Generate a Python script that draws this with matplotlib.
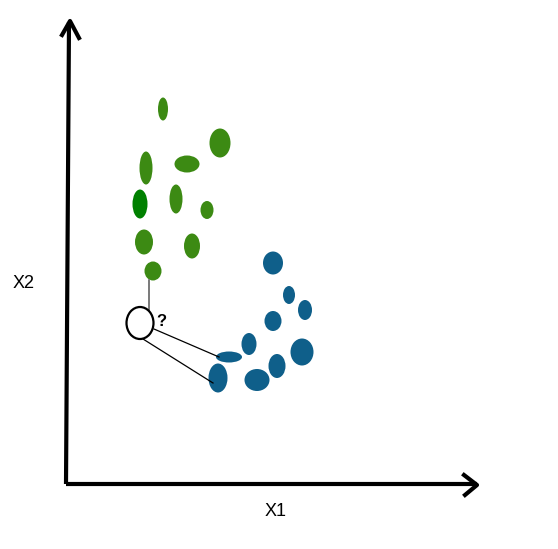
import matplotlib
matplotlib.use("Agg")
import matplotlib.pyplot as plt
from matplotlib.patches import Ellipse

# drawing is laid out in pixel units of the picture (y grows downward)
green_x = [163, 220, 146, 187, 140, 176, 207, 144, 192, 153]
green_y = [109, 143, 168, 164, 204, 199, 210, 242, 246, 271]
green_w = [10, 21, 13, 25, 15, 13, 13, 18, 16, 17]
green_h = [23, 29, 33, 17, 29, 29, 18, 25, 25, 19]

blue_x = [273, 289, 305, 273, 249, 302, 229, 277, 218, 257]
blue_y = [263, 295, 310, 321, 344, 352, 357, 366, 378, 380]
blue_w = [20, 12, 14, 17, 15, 23, 26, 17, 19, 25]
blue_h = [23, 18, 20, 20, 22, 27, 11, 24, 29, 22]

query = (140, 323)
# neighbours joined to the query point: one green, two blue
links = [((149, 310), (149, 280)),
         ((154, 329), (219, 357)),
         ((143, 339), (213, 383))]

fig = plt.figure(figsize=(5.58, 5.49), dpi=100)
ax = fig.add_axes([0, 0, 1, 1])
ax.set_xlim(0, 558)
ax.set_ylim(549, 0)
ax.axis("off")

# axes with chevron arrow heads
ax.plot([66, 69], [484, 22], color="black", lw=3, solid_capstyle="butt")
ax.plot([66, 477], [484, 484], color="black", lw=3, solid_capstyle="butt")
ax.plot([62, 70, 79], [35, 21, 38], color="black", lw=3)
ax.plot([464, 477, 465], [475, 485, 495], color="black", lw=3)

ax.text(24, 283, "X2", fontsize=13, family="Liberation Sans", ha="center", va="center")
ax.text(276, 511, "X1", fontsize=13, family="Liberation Sans", ha="center", va="center")

for i in range(len(green_x)):
    c = "#008000" if i == 4 else "#3c8a13"
    ax.add_patch(Ellipse((green_x[i], green_y[i]), green_w[i], green_h[i], color=c, lw=0))
for i in range(len(blue_x)):
    ax.add_patch(Ellipse((blue_x[i], blue_y[i]), blue_w[i], blue_h[i], color="#0f5f8a", lw=0))

ax.plot([links[0][0][0], links[0][1][0]], [links[0][0][1], links[0][1][1]], color="#555555", lw=1.1)
for a, b in links[1:]:
    ax.plot([a[0], b[0]], [a[1], b[1]], color="black", lw=0.9)

ax.add_patch(Ellipse(query, 27, 32, facecolor="white", edgecolor="black", lw=1.6, zorder=5))
ax.text(161, 322, "?", fontsize=12, fontweight="bold", family="Liberation Sans", ha="center", va="center")

fig.savefig("out.png", dpi=100)
